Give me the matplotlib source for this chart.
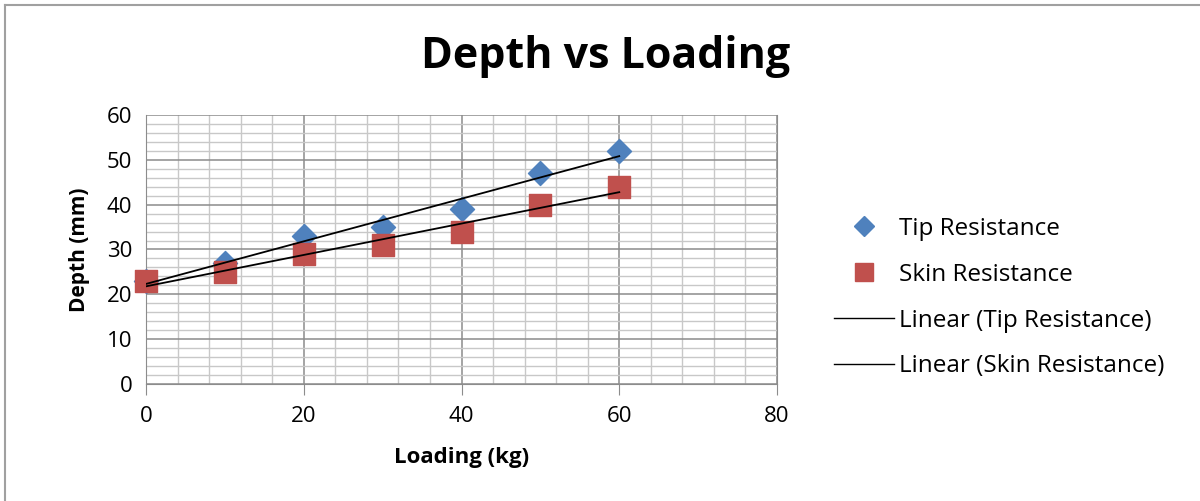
import matplotlib.pyplot as plt
from matplotlib.ticker import MultipleLocator
from matplotlib.lines import Line2D
import numpy as np

plt.rcParams['font.family'] = ['Open Sans', 'DejaVu Sans']

loading = [0, 10, 20, 30, 40, 50, 60]
tip_depth = [23, 27, 33, 35, 39, 47, 52]
skin_depth = [23, 25, 29, 31, 34, 40, 44]

fig = plt.figure(figsize=(12, 5.01), dpi=100)
ax = fig.add_axes([0.1217, 0.2335, 0.5258, 0.537])

# gridlines: majors darker, minors lighter
ax.set_xlim(0, 80)
ax.set_ylim(0, 60)
ax.xaxis.set_major_locator(MultipleLocator(20))
ax.xaxis.set_minor_locator(MultipleLocator(4))
ax.yaxis.set_major_locator(MultipleLocator(10))
ax.yaxis.set_minor_locator(MultipleLocator(2))
ax.grid(which='major', color='#8c8c8c', linewidth=1.1)
ax.grid(which='minor', color='#c8c8c8', linewidth=1.0)
ax.set_axisbelow(True)

ax.spines['top'].set_visible(False)
for s in ['right', 'left', 'bottom']:
    ax.spines[s].set_color('#8c8c8c')
ax.tick_params(which='major', axis='x', direction='out', length=8, color='#8c8c8c',
               labelsize=16, pad=8)
ax.tick_params(which='major', axis='y', direction='out', length=0, labelsize=16, pad=10)
ax.tick_params(which='minor', length=0)

ax.scatter(loading, tip_depth, marker='D', s=150, color='#4f81bd', zorder=3,
           clip_on=False, label='Tip Resistance')
ax.scatter(loading, skin_depth, marker='s', s=260, color='#c0504d', zorder=3,
           clip_on=False, label='Skin Resistance')

# linear trendlines
x = np.array(loading)
for ys, name in [(tip_depth, 'Tip Resistance'), (skin_depth, 'Skin Resistance')]:
    m, c = np.polyfit(x, ys, 1)
    ax.plot(x, m * x + c, color='black', linewidth=1.3, zorder=4,
            label='Linear (' + name + ')')

ax.set_xlabel('Loading (kg)', fontsize=16, fontweight='bold', labelpad=14)
ax.set_ylabel('Depth (mm)', fontsize=15, fontweight='bold', labelpad=12)
fig.text(0.505, 0.888, 'Depth vs Loading', ha='center', va='center',
         fontsize=31, fontweight='bold')

handles = [
    Line2D([], [], marker='D', color='#4f81bd', linestyle='none', markersize=10),
    Line2D([], [], marker='s', color='#c0504d', linestyle='none', markersize=13),
    Line2D([], [], color='black', linewidth=1),
    Line2D([], [], color='black', linewidth=1),
]
labels = ['Tip Resistance', 'Skin Resistance', 'Linear (Tip Resistance)',
          'Linear (Skin Resistance)']
fig.legend(handles, labels, loc='center left', bbox_to_anchor=(0.677, 0.406),
           frameon=False, fontsize=17.5, handlelength=2.45, handletextpad=0.2,
           labelspacing=0.9)

# outer chart frame
fig.add_artist(Line2D([0.004, 1.0], [0.99, 0.99], color='#a0a0a0', linewidth=1.5,
                      transform=fig.transFigure))
fig.add_artist(Line2D([0.004, 0.004], [0.0, 0.99], color='#a0a0a0', linewidth=1.5,
                      transform=fig.transFigure))

fig.savefig('out.png', dpi=100)
